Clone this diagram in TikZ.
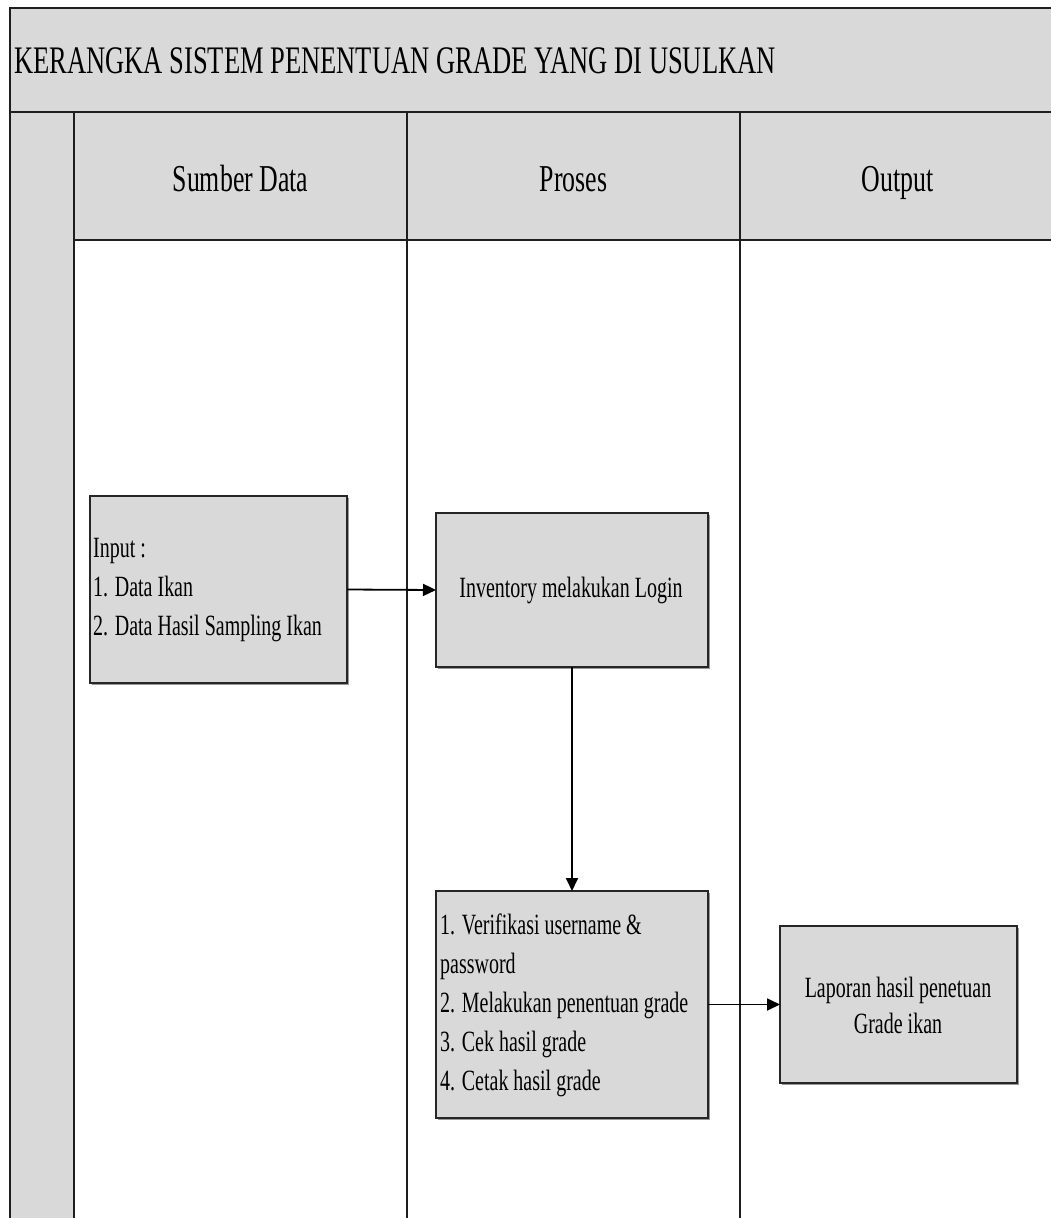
\documentclass[tikz,border=0pt]{standalone}
\usepackage{fontspec}
\newfontfamily\tnr[FakeStretch=0.68]{Liberation Serif}
\usetikzlibrary{arrows.meta}
\definecolor{bandgray}{HTML}{D9D9D9}
\definecolor{linegray}{HTML}{1E1E1E}
\tikzset{
  frameline/.style={draw=linegray, line width=2pt},
  thinline/.style={draw=linegray, line width=1.6pt},
  procbox/.style={draw=black!85, line width=1.6pt, fill=bandgray, rectangle, inner sep=0pt, outer sep=0pt,
    preaction={fill=black!40, transform canvas={xshift=1.5pt, yshift=-1.8pt}}},
  titletext/.style={font=\tnr\fontsize{39}{47}\selectfont, inner sep=0pt, anchor=base west},
  headtext/.style={font=\tnr\fontsize{38}{46}\selectfont, inner sep=0pt, anchor=base},
  boxtext/.style={font=\tnr\fontsize{29.4}{39}\selectfont, inner sep=0pt},
  flow/.style={draw=black, line width=1.8pt, -{Triangle[length=13pt,width=12pt]}}
}
\begin{document}
\begin{tikzpicture}[x=1pt,y=-1pt]
\useasboundingbox (0,0) rectangle (1051,1218);
\fill[white] (0,0) rectangle (1051,1218);
% bands
\fill[bandgray] (10,8) rectangle (1051,112);
\fill[bandgray] (74,112) rectangle (1051,240);
\fill[bandgray] (10,112) rectangle (74,1218);
% frame lines
\draw[frameline] (10,8) -- (1051,8);
\draw[frameline] (10,7) -- (10,1218);
\draw[frameline] (10,112) -- (1051,112);
\draw[thinline] (74,240) -- (1051,240);
\draw[thinline] (74,112) -- (74,1218);
\draw[thinline] (407,112) -- (407,1218);
\draw[thinline] (740,112) -- (740,1218);
% texts
\node[titletext] (title) at (14,73) {KERANGKA SISTEM PENENTUAN GRADE YANG DI USULKAN};
\node[headtext] (h1) at (240.5,191) {Sumber Data};
\node[headtext] (h2) at (573.5,191) {Proses};
\node[headtext] (h3) at (897.5,191) {Output};
% boxes
\node[procbox, minimum width=257pt, minimum height=187pt] (inp) at (218.5,589.5) {};
\node[boxtext, anchor=west, align=left] (inptext) at (93,590)
  {Input :\\1. Data Ikan\\2. Data Hasil Sampling Ikan};
\node[procbox, minimum width=272pt, minimum height=154pt] (inv) at (572,590) {};
\node[boxtext] (invtext) at (571,590) {Inventory melakukan Login};
\node[procbox, minimum width=272pt, minimum height=227pt] (ver) at (572,1004.5) {};
\node[boxtext, anchor=west, align=left] (vertext) at (440,1005)
  {1. Verifikasi username \&\\password\\2. Melakukan penentuan grade\\3. Cek hasil grade\\4. Cetak hasil grade};
\node[procbox, minimum width=237pt, minimum height=157pt] (lap) at (898.5,1004.5) {};
\node[boxtext, align=center, font=\tnr\fontsize{29.4}{36}\selectfont] (laptext) at (898,1005)
  {Laporan hasil penetuan\\Grade ikan};
% connectors
\draw[flow] (inp.east) -- (inv.west);
\draw[flow] (inv.south) -- (ver.north);
\draw[flow] (ver.east) -- (lap.west);
\end{tikzpicture}
\end{document}
